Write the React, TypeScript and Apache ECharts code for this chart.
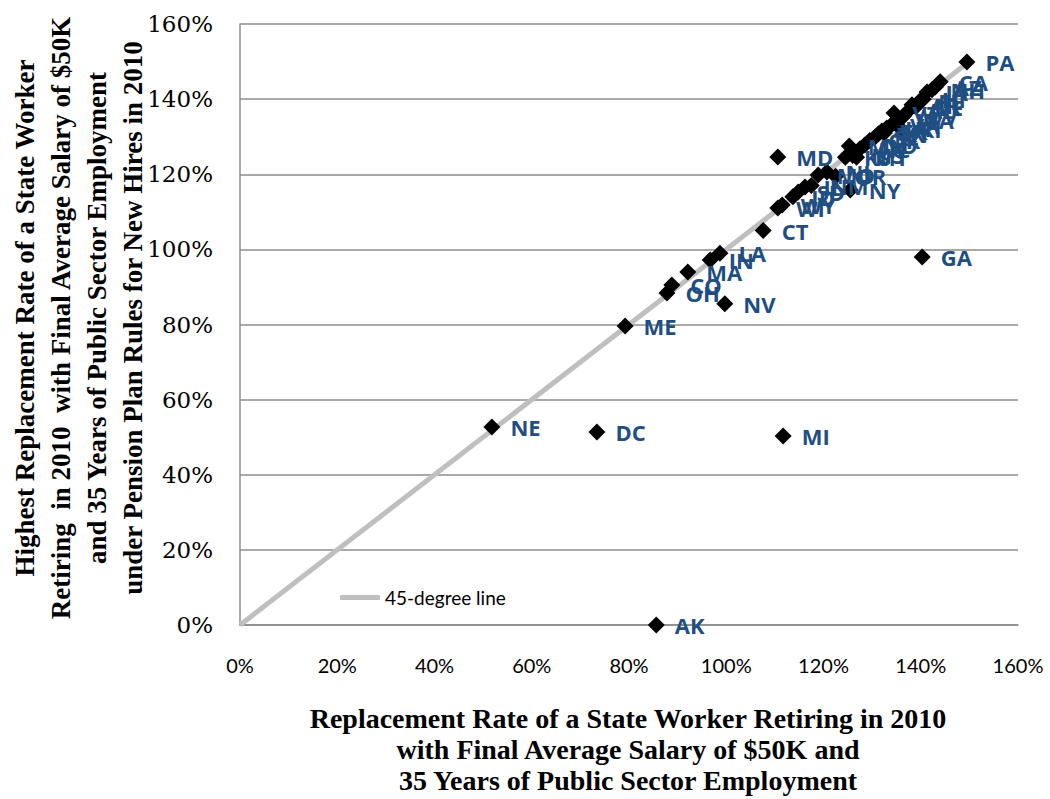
import React, { useEffect, useRef } from "react";
import * as echarts from "echarts";

// State abbreviations, x = replacement rate (%), y = highest replacement rate (%)
const states = [
  "AK", "NE", "DC", "MI", "ME", "OH", "CO", "MA", "IN", "LA", "NV", "GA", "CT", "MD",
  "WI", "WY", "ID", "SD", "IL", "NM", "MO", "NJ", "OR", "NY", "KS", "MN", "MS", "MT",
  "NC", "ND", "OK", "SC", "TN", "TX", "KY", "UT", "VA", "VT", "WA", "RI", "WV", "AL",
  "AR", "DE", "FL", "HI", "IA", "NH", "AZ", "CA", "PA",
];
const xValues = [
  85.6, 51.8, 73.4, 111.7, 79.2, 87.8, 88.8, 92.1, 96.7, 98.7, 99.7, 140.3, 107.6, 110.6,
  110.6, 111.5, 113.7, 114.8, 116.2, 117.5, 118.9, 120.7, 122.5, 125.5, 124.5, 125.3, 126.0, 126.8,
  127.5, 128.5, 129.5, 130.5, 131.3, 132.0, 132.5, 133.0, 134.0, 134.5, 135.5, 136.0, 136.5, 137.5,
  138.2, 139.0, 139.8, 140.5, 141.3, 142.3, 143.0, 144.0, 149.5,
];
const yValues = [
  0.0, 52.7, 51.4, 50.3, 79.6, 88.4, 90.5, 94.0, 97.2, 99.0, 85.5, 98.0, 105.0, 124.6,
  111.0, 111.8, 114.0, 115.3, 116.6, 117.0, 119.8, 120.6, 119.5, 115.8, 124.5, 127.5, 125.0, 124.5,
  126.8, 127.8, 129.0, 129.8, 130.8, 131.5, 131.0, 132.3, 133.2, 136.3, 134.5, 132.0, 135.5, 137.0,
  138.5, 138.0, 139.5, 140.0, 141.9, 142.5, 143.2, 144.6, 149.9,
];
const lineName = "45-degree line";
const lineX = [0, 150];
const lineY = [0, 150];
const tickValues = [0, 20, 40, 60, 80, 100, 120, 140, 160];

// label nudges (style only)
const defaultOffset = [10, 7];
const labelOffsets: Record<string, number[]> = {
  PA: [-12, -7], CA: [8, 3], AZ: [10, 5], NE: [12, 5], DC: [3, 4], MI: [2, 1],
  AK: [-2, -15], GA: [10, 1], NV: [3, 11], ME: [3, 11], MD: [16, -16], CT: [11, 2],
  LA: [9, 3], IN: [7, 4], MA: [8, 2], CO: [6, 2], OH: [7, 4], NY: [16, 2],
};

export default function App() {
  const ref = useRef<HTMLDivElement>(null);
  useEffect(() => {
    if (!ref.current) return;
    const chart = echarts.init(ref.current, null, { renderer: "svg" });
    const scatterData = states.map((s, i) => ({
      name: s,
      value: [xValues[i], yValues[i]],
      label: { offset: labelOffsets[s] || defaultOffset },
    }));
    const lineData = lineX.map((x, i) => [x, lineY[i]]);
    chart.setOption({
      animation: false,
      backgroundColor: "#ffffff",
      grid: { left: 240, right: 32, top: 24, bottom: 174, containLabel: false },
      xAxis: {
        type: "value",
        min: tickValues[0],
        max: tickValues[tickValues.length - 1],
        interval: 20,
        axisLine: { show: true, lineStyle: { color: "#8c8c8c", width: 1.5 } },
        axisTick: { show: false },
        splitLine: { show: false },
        axisLabel: {
          margin: 30,
          formatter: (v: number) => `${v}%`,
          fontFamily: "Lato",
          fontSize: 20,
          color: "#000",
        },
      },
      yAxis: {
        type: "value",
        min: tickValues[0],
        max: tickValues[tickValues.length - 1],
        interval: 20,
        axisLine: { show: true, lineStyle: { color: "#8c8c8c", width: 1.5 } },
        axisTick: { show: false },
        splitLine: { show: true, lineStyle: { color: "#8c8c8c", width: 1.5 } },
        axisLabel: {
          margin: 27,
          formatter: (v: number) => `${v}%`,
          fontFamily: "DejaVu Serif",
          fontSize: 23,
          color: "#000",
        },
      },
      legend: {
        data: [{ name: lineName, icon: "roundRect" }],
        left: 335,
        top: 583,
        itemWidth: 40,
        itemHeight: 5,
        itemGap: 5,
        itemStyle: { color: "#bfbfbf" },
        textStyle: { fontFamily: "Lato", fontSize: 19, color: "#000" },
      },
      series: [
        {
          name: lineName,
          type: "line",
          data: lineData,
          symbol: "none",
          lineStyle: { color: "#bfbfbf", width: 5 },
          itemStyle: { color: "#bfbfbf" },
          z: 1,
        },
        {
          name: "States",
          type: "scatter",
          data: scatterData,
          symbol: "diamond",
          symbolSize: 17,
          itemStyle: { color: "#000", opacity: 1 },
          z: 3,
          label: {
            show: true,
            position: "right",
            distance: 10,
            formatter: "{b}",
            fontFamily: "Open Sans",
            fontWeight: "bold",
            fontSize: 22,
            color: "#1f4e82",
          },
          labelLayout: { hideOverlap: false },
        },
      ],
      graphic: [
        {
          type: "text",
          x: 628,
          y: 749,
          style: {
            text:
              "Replacement Rate of a State Worker Retiring in 2010\nwith Final Average Salary of $50K and\n35 Years of Public Sector Employment",
            fontFamily: "Liberation Serif",
            fontWeight: "bold",
            fontSize: 28,
            lineHeight: 31,
            textAlign: "center",
            textVerticalAlign: "middle",
            fill: "#000",
          },
        },
        {
          type: "text",
          x: 79,
          y: 318,
          rotation: Math.PI / 2,
          style: {
            text:
              "Highest Replacement Rate of a State Worker\nRetiring  in 2010  with Final Average Salary of $50K\nand 35 Years of Public Sector Employment\nunder Pension Plan Rules for New Hires in 2010",
            fontFamily: "Liberation Serif",
            fontWeight: "bold",
            fontSize: 27,
            lineHeight: 36,
            textAlign: "center",
            textVerticalAlign: "middle",
            fill: "#000",
          },
        },
      ],
    });
    return () => chart.dispose();
  }, []);
  return <div ref={ref} style={{ width: 1050, height: 799, position: "absolute", left: 0, top: 0 }} />;
}
